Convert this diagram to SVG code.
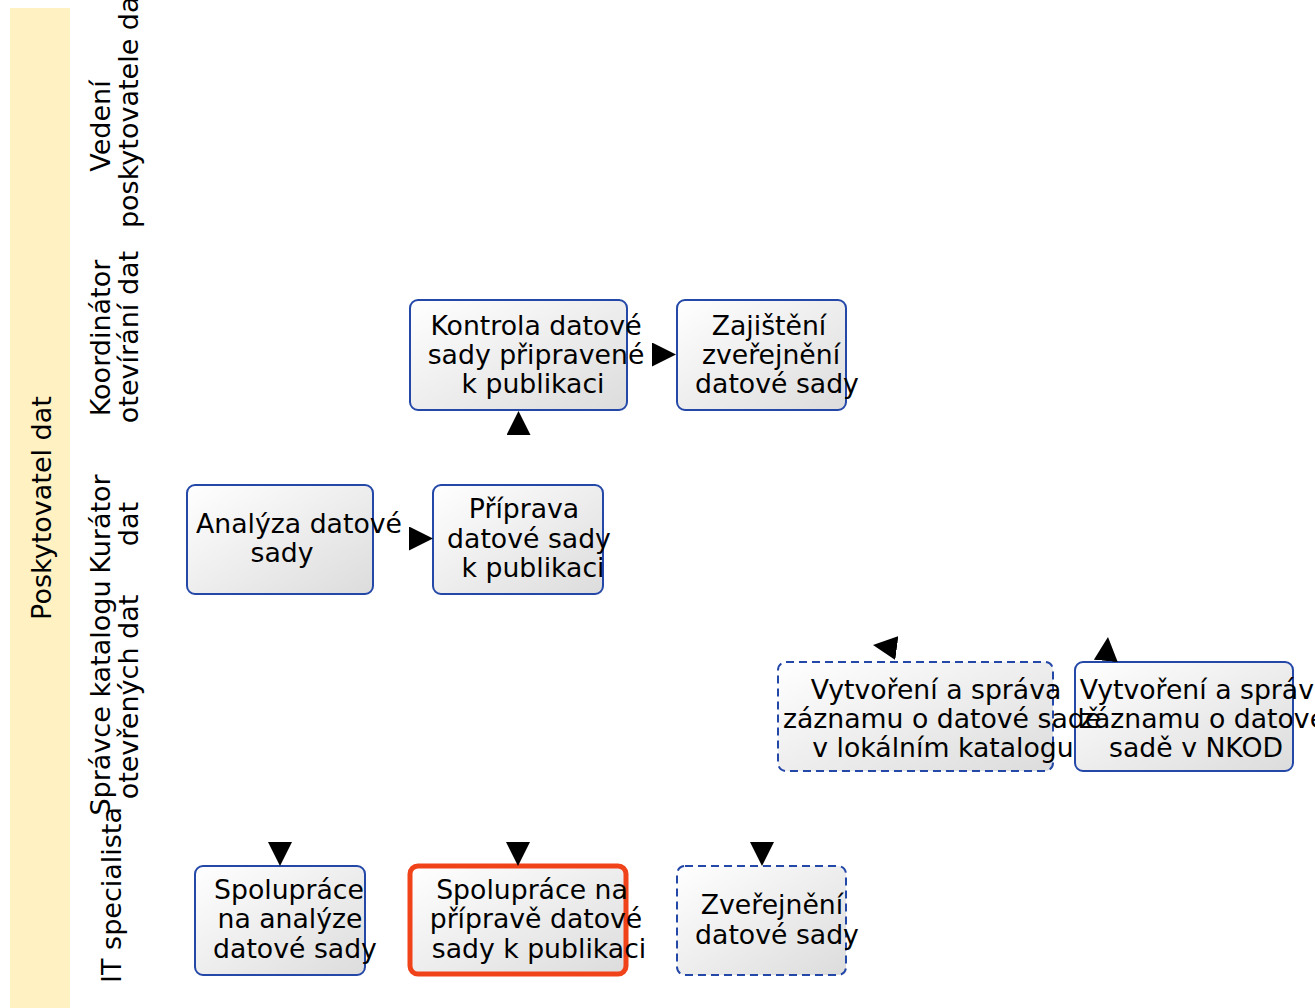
<svg xmlns="http://www.w3.org/2000/svg" width="1315" height="1008" viewBox="0 0 1315 1008">
<style>
text{font-family:"DejaVu Sans","Liberation Sans",sans-serif;font-size:26.7px;fill:#000}
.lbl{font-size:27px}
.t{text-anchor:middle}
.box{fill:url(#g);stroke:#2448a8;stroke-width:2}
.dash{stroke-dasharray:8 5}
.sel{fill:url(#g);stroke:#f0431a;stroke-width:5}
.c{fill:none;stroke:none}
</style>
<defs>
<linearGradient id="g" x1="0" y1="0" x2="1" y2="1">
<stop offset="0" stop-color="#ffffff"/>
<stop offset="1" stop-color="#dcdcdc"/>
</linearGradient>
<marker id="ah" viewBox="0 0 10 10" refX="10" refY="5" markerWidth="24" markerHeight="24" markerUnits="userSpaceOnUse" orient="auto">
<path d="M0,0 L10,5 L0,10 z" fill="#000"/>
</marker>
</defs>
<g id="pool">
<rect x="10" y="8" width="60" height="1000" fill="#fff1c1"/>
<text class="t lbl" transform="translate(51,508) rotate(-90)">Poskytovatel dat</text>
</g>
<g id="lanes">
<text class="t lbl" transform="translate(110,126) rotate(-90)">Vedení</text>
<text class="t lbl" transform="translate(138,107) rotate(-90)">poskytovatele dat</text>
<text class="t lbl" transform="translate(110,338) rotate(-90)">Koordinátor</text>
<text class="t lbl" transform="translate(138,337) rotate(-90)">otevírání dat</text>
<text class="t lbl" transform="translate(110,524) rotate(-90)">Kurátor</text>
<text class="t lbl" transform="translate(138,524) rotate(-90)">dat</text>
<text class="t lbl" transform="translate(110,698) rotate(-90)">Správce katalogu</text>
<text class="t lbl" transform="translate(138,697) rotate(-90)">otevřených dat</text>
<text class="t lbl" transform="translate(121,895) rotate(-90)">IT specialista</text>
</g>
<g id="n_kontrola">
<rect class="box" x="410" y="300" width="217" height="110" rx="8"/>
<text class="t" x="536" y="335">Kontrola datové</text>
<text class="t" x="536" y="364">sady připravené</text>
<text class="t" x="533" y="393">k publikaci</text>
</g>
<g id="n_zajisteni">
<rect class="box" x="677" y="300" width="169" height="110" rx="8"/>
<text class="t" x="769" y="335">Zajištění</text>
<text class="t" x="771" y="364">zveřejnění</text>
<text class="t" x="777" y="393">datové sady</text>
</g>
<g id="n_analyza">
<rect class="box" x="187" y="485" width="186" height="109" rx="8"/>
<text class="t" x="299" y="533">Analýza datové</text>
<text class="t" x="282" y="562">sady</text>
</g>
<g id="n_priprava">
<rect class="box" x="433" y="485" width="170" height="109" rx="8"/>
<text class="t" x="524" y="518">Příprava</text>
<text class="t" x="529" y="548">datové sady</text>
<text class="t" x="533" y="577">k publikaci</text>
</g>
<g id="n_nkod">
<rect class="box" x="1075" y="662" width="218" height="109" rx="8"/>
<text class="t" x="1205" y="699">Vytvoření a správa</text>
<text class="t" x="1203" y="728">záznamu o datové</text>
<text class="t" x="1196" y="757">sadě v NKOD</text>
</g>
<g id="n_lokalni">
<rect class="box dash" x="778" y="662" width="275" height="109" rx="8"/>
<text class="t" x="936" y="699">Vytvoření a správa</text>
<text class="t" x="942" y="728">záznamu o datové sadě</text>
<text class="t" x="943" y="757">v lokálním katalogu</text>
</g>
<g id="n_spoluprace_analyza">
<rect class="box" x="195" y="866" width="170" height="109" rx="8"/>
<text class="t" x="289" y="899">Spolupráce</text>
<text class="t" x="290" y="928">na analýze</text>
<text class="t" x="295" y="958">datové sady</text>
</g>
<g id="n_spoluprace_priprava">
<rect class="sel" x="410" y="866" width="216" height="108" rx="8"/>
<text class="t" x="532" y="899">Spolupráce na</text>
<text class="t" x="536" y="928">přípravě datové</text>
<text class="t" x="539" y="958">sady k publikaci</text>
</g>
<g id="n_zverejneni">
<rect class="box dash" x="677" y="866" width="169" height="109" rx="8"/>
<text class="t" x="772" y="914">Zveřejnění</text>
<text class="t" x="777" y="944">datové sady</text>
</g>
<g id="connectors">
<path class="c" d="M640,354.5 L676,354.5" marker-end="url(#ah)"/>
<path class="c" d="M397,538.5 L433,538.5" marker-end="url(#ah)"/>
<path class="c" d="M518.5,450 L518.5,411" marker-end="url(#ah)"/>
<path class="c" d="M912,650 L873,645" marker-end="url(#ah)"/>
<path class="c" d="M1104,680 L1108,637" marker-end="url(#ah)"/>
<path class="c" d="M280,830 L280,866" marker-end="url(#ah)"/>
<path class="c" d="M518,830 L518,866" marker-end="url(#ah)"/>
<path class="c" d="M762,830 L762,866" marker-end="url(#ah)"/>
</g>
</svg>
